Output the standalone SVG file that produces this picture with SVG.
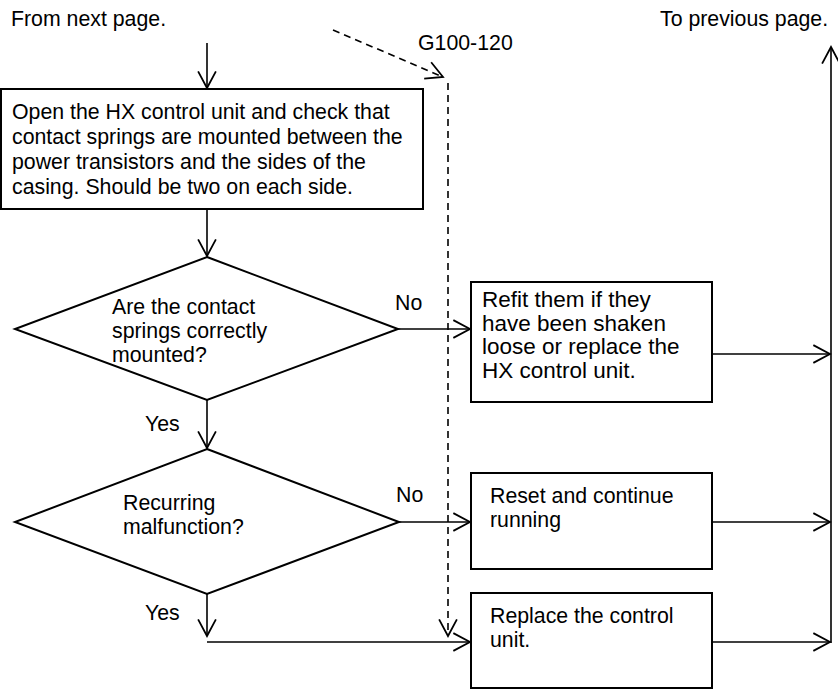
<svg xmlns="http://www.w3.org/2000/svg" width="838" height="690" viewBox="0 0 838 690">
<style>
text{font-family:"Liberation Sans",Arial,sans-serif;font-size:21.3px;fill:#000}
.big{font-size:22.5px}
.box{fill:#fff;stroke:#000;stroke-width:2}
.ln{fill:none;stroke:#000;stroke-width:1.6}
.dash{fill:none;stroke:#000;stroke-width:1.6;stroke-dasharray:7 5}
</style>
<defs>
<marker id="ah" markerUnits="userSpaceOnUse" markerWidth="20" markerHeight="20" viewBox="0 0 16 18" refX="15" refY="9" orient="auto">
<path d="M0,1 L15,9 L0,17" fill="none" stroke="#000" stroke-width="1.6"/>
</marker>
</defs>
<rect width="838" height="690" fill="#fff"/>
<text x="11" y="26">From next page.</text>
<text x="660" y="26">To previous page.</text>
<text x="418" y="50">G100-120</text>
<g id="connectors">
<line class="ln" x1="207" y1="43" x2="207" y2="88" marker-end="url(#ah)"/>
<line class="ln" x1="207" y1="210" x2="207" y2="256" marker-end="url(#ah)"/>
<line class="ln" x1="398" y1="329" x2="470" y2="329" marker-end="url(#ah)"/>
<line class="ln" x1="713" y1="354" x2="830" y2="354" marker-end="url(#ah)"/>
<line class="ln" x1="207" y1="400" x2="207" y2="448" marker-end="url(#ah)"/>
<line class="ln" x1="399" y1="522" x2="470" y2="522" marker-end="url(#ah)"/>
<line class="ln" x1="713" y1="522" x2="830" y2="522" marker-end="url(#ah)"/>
<line class="ln" x1="207" y1="594" x2="207" y2="636" marker-end="url(#ah)"/>
<line class="ln" x1="207" y1="642" x2="470" y2="642" marker-end="url(#ah)"/>
<line class="ln" x1="713" y1="642" x2="830" y2="642" marker-end="url(#ah)"/>
<line class="ln" x1="831" y1="643" x2="831" y2="47" marker-end="url(#ah)"/>
<line class="dash" x1="333" y1="30" x2="443" y2="77" marker-end="url(#ah)"/>
<line class="dash" x1="448" y1="83" x2="448" y2="636" marker-end="url(#ah)"/>
</g>
<g id="box1">
<rect class="box" x="1" y="89" width="422" height="120"/>
<text x="12" y="119">Open the HX control unit and check that</text>
<text x="12" y="144">contact springs are mounted between the</text>
<text x="12" y="169">power transistors and the sides of the</text>
<text x="12" y="194">casing. Should be two on each side.</text>
</g>
<g id="decision1">
<polygon class="box" points="207,257 398,329 207,400 15,329"/>
<text x="112" y="314">Are the contact</text>
<text x="112" y="338">springs correctly</text>
<text x="112" y="362">mounted?</text>
<text x="395" y="310">No</text>
<text x="145" y="431">Yes</text>
</g>
<g id="refit">
<rect class="box" x="471" y="282" width="241" height="120"/>
<text class="big" x="482" y="307">Refit them if they</text>
<text class="big" x="482" y="331">have been shaken</text>
<text class="big" x="482" y="354">loose or replace the</text>
<text class="big" x="482" y="378">HX control unit.</text>
</g>
<g id="decision2">
<polygon class="box" points="207,449 399,522 207,594 15,522"/>
<text x="123" y="510">Recurring</text>
<text x="123" y="534">malfunction?</text>
<text x="396" y="502">No</text>
<text x="145" y="620">Yes</text>
</g>
<g id="reset">
<rect class="box" x="471" y="473" width="241" height="96"/>
<text x="490" y="503">Reset and continue</text>
<text x="490" y="527">running</text>
</g>
<g id="replace">
<rect class="box" x="471" y="593" width="241" height="95"/>
<text x="490" y="623">Replace the control</text>
<text x="490" y="647">unit.</text>
</g>
</svg>
